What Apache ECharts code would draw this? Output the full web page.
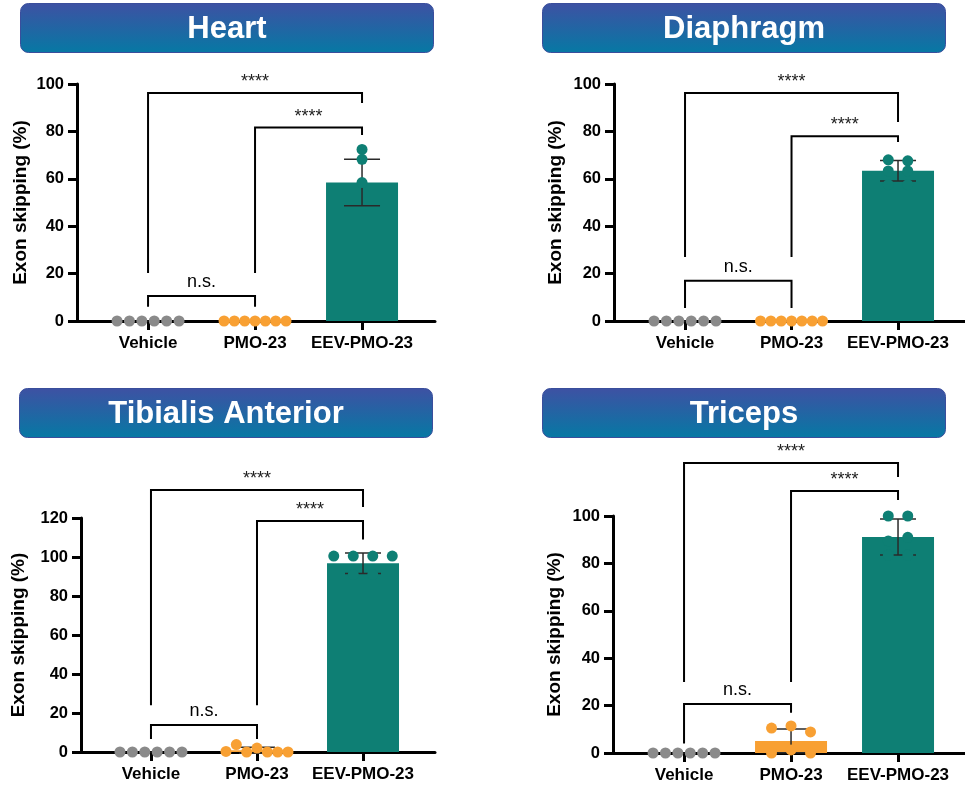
<!DOCTYPE html>
<html>
<head>
<meta charset="utf-8">
<script src="https://cdn.jsdelivr.net/npm/echarts@6/dist/echarts.min.js"></script>
<style>
  html, body { margin: 0; padding: 0; background: #ffffff; }
  #chart { width: 965px; height: 785px; }
</style>
</head>
<body>
<div id="chart"></div>
<script>
// ---- data ----
const categories = ['Vehicle', 'PMO-23', 'EEV-PMO-23'];
const panelTitles = ['Heart', 'Diaphragm', 'Tibialis Anterior', 'Triceps'];
const yMaxima = [100, 100, 120, 100];
const yInterval = 20;

// individual animals (exon skipping, %)
const heartVehicle = [0, 0, 0, 0, 0, 0];
const heartPMO = [0, 0, 0, 0, 0, 0, 0];
const heartEEV = [72.4, 68.2, 58.4];

const diaphragmVehicle = [0, 0, 0, 0, 0, 0];
const diaphragmPMO = [0, 0, 0, 0, 0, 0, 0];
const diaphragmEEV = [68, 67.6, 63.3, 63.3, 57.5, 57.5];

const tibialisVehicle = [0, 0, 0, 0, 0, 0];
const tibialisPMO = [0.3, 3.8, 0, 2, 0, 0, 0];
const tibialisEEV = [100.5, 100.5, 100.5, 100.5, 91, 91];

const tricepsVehicle = [0, 0, 0, 0, 0, 0];
const tricepsPMO = [10.5, 11.4, 8.9, 0, 1.3, 0];
const tricepsEEV = [100, 100, 89.5, 91, 83.5, 83.5];

// group mean and SD per tissue
const heartMean = [0, 0, 58.4];
const heartSD = [0, 0, 9.8];
const diaphragmMean = [0, 0, 63.4];
const diaphragmSD = [0, 0, 4.3];
const tibialisMean = [0, 0.9, 96.8];
const tibialisSD = [0, 1.5, 5.3];
const tricepsMean = [0, 5.1, 91.1];
const tricepsSD = [0, 5.0, 7.6];

// comparisons: [group A, group B, bracket level, left leg end, right leg end, label]
const heartStats = [
  [0, 2, 96.2, 20.3, 92, '****'],
  [1, 2, 81.6, 20.3, 78.5, '****'],
  [0, 1, 10.5, 6, 6, 'n.s.']
];
const diaphragmStats = [
  [0, 2, 96.2, 27, 84, '****'],
  [1, 2, 78, 27, 75.5, '****'],
  [0, 1, 17, 5.5, 5.5, 'n.s.']
];
const tibialisStats = [
  [0, 2, 134.4, 24, 125.6, '****'],
  [1, 2, 118.5, 24, 109, '****'],
  [0, 1, 13.8, 6.7, 6.7, 'n.s.']
];
const tricepsStats = [
  [0, 2, 122.4, 30, 116.5, '****'],
  [1, 2, 110.5, 30, 106.8, '****'],
  [0, 1, 20.7, 4, 17, 'n.s.']
];

// ---- styling / layout ----
const groupColors = ['#8a8a8a', '#f8a033', '#0e7f74'];
const FONT = '"Liberation Sans", Arial, Helvetica, sans-serif';

const panels = [
  { points: [heartVehicle, heartPMO, heartEEV], mean: heartMean, sd: heartSD, stats: heartStats,
    grid: { left: 77, top: 84, width: 358, height: 237 }, xMin: -0.664, xMax: 2.682, nameGap: 47,
    box: { x: 20, y: 3, w: 413, h: 49 } },
  { points: [diaphragmVehicle, diaphragmPMO, diaphragmEEV], mean: diaphragmMean, sd: diaphragmSD, stats: diaphragmStats,
    grid: { left: 614, top: 84, width: 351, height: 237 }, xMin: -0.667, xMax: 2.629, nameGap: 49,
    box: { x: 542, y: 3, w: 403, h: 49 } },
  { points: [tibialisVehicle, tibialisPMO, tibialisEEV], mean: tibialisMean, sd: tibialisSD, stats: tibialisStats,
    grid: { left: 81, top: 518, width: 354, height: 234 }, xMin: -0.66, xMax: 2.679, nameGap: 53,
    box: { x: 19, y: 388, w: 413, h: 49 } },
  { points: [tricepsVehicle, tricepsPMO, tricepsEEV], mean: tricepsMean, sd: tricepsSD, stats: tricepsStats,
    grid: { left: 613, top: 516, width: 352, height: 237 }, xMin: -0.664, xMax: 2.626, nameGap: 49,
    box: { x: 542, y: 388, w: 403, h: 49 } }
];

const DOT_R = 5.5;
const CLUSTER_PX = 9;     // points closer than this (vertically) share a row
const MAX_SPAN = 62;      // widest horizontal spread of one row
const MAX_STEP = 19.5;    // largest gap between neighbours in a row

// spread overlapping points of one group sideways (column scatter)
function scatterOffsets(values, pxPerUnit) {
  const idx = values.map((v, i) => i).sort((a, b) => values[a] - values[b]);
  const offsets = new Array(values.length).fill(0);
  let rows = [];
  let cur = [];
  idx.forEach((i, k) => {
    if (k > 0 && (values[i] - values[idx[k - 1]]) * pxPerUnit >= CLUSTER_PX) {
      rows.push(cur); cur = [];
    }
    cur.push(i);
  });
  if (cur.length) rows.push(cur);
  rows.forEach(row => {
    row.sort((a, b) => a - b);
    const n = row.length;
    if (n < 2) return;
    const step = Math.min(MAX_STEP, MAX_SPAN / (n - 1));
    row.forEach((i, j) => { offsets[i] = (j - (n - 1) / 2) * step; });
  });
  return offsets;
}

const option = {
  animation: false,
  backgroundColor: '#ffffff',
  grid: [], xAxis: [], yAxis: [], series: [], graphic: []
};

panels.forEach((p, k) => {
  option.grid.push(Object.assign({ containLabel: false }, p.grid));

  option.xAxis.push({
    type: 'value', gridIndex: k, min: p.xMin, max: p.xMax,
    splitLine: { show: false },
    axisLine: { show: true, onZero: false, lineStyle: { color: '#000', width: 3 } },
    axisTick: { show: true, customValues: [0, 1, 2], length: 9, lineStyle: { color: '#000', width: 3 } },
    axisLabel: {
      show: true, customValues: [0, 1, 2], margin: 14,
      formatter: v => categories[Math.round(v)] || '',
      color: '#000', fontFamily: FONT, fontWeight: 'bold', fontSize: 17
    }
  });

  option.yAxis.push({
    type: 'value', gridIndex: k, min: 0, max: yMaxima[k], interval: yInterval,
    name: 'Exon skipping (%)', nameLocation: 'middle', nameGap: p.nameGap,
    nameTextStyle: { color: '#000', fontFamily: FONT, fontWeight: 'bold', fontSize: 19 },
    splitLine: { show: false },
    axisLine: { show: true, onZero: false, lineStyle: { color: '#000', width: 3 } },
    axisTick: { show: true, length: 9, lineStyle: { color: '#000', width: 3 } },
    axisLabel: { margin: 13, color: '#000', fontFamily: FONT, fontWeight: 'bold', fontSize: 16.5 }
  });

  // group means as bars
  option.series.push({
    type: 'bar', xAxisIndex: k, yAxisIndex: k, barWidth: 72, z: 2,
    data: p.mean.map((m, g) => ({ value: [g, m], itemStyle: { color: groupColors[g] } }))
  });

  // SD error bars
  option.series.push({
    type: 'custom', xAxisIndex: k, yAxisIndex: k, z: 3, clip: false,
    data: p.mean.map((m, g) => [g, m, p.sd[g]]),
    renderItem: (params, api) => {
      const g = api.value(0), m = api.value(1), s = api.value(2);
      if (!s) return null;
      const top = api.coord([g, m + s]);
      const bot = api.coord([g, m - s]);
      const st = { stroke: '#2a2a2a', lineWidth: 1.5 };
      return {
        type: 'group', children: [
          { type: 'line', shape: { x1: top[0], y1: top[1], x2: bot[0], y2: bot[1] }, style: st },
          { type: 'line', shape: { x1: top[0] - 18, y1: top[1], x2: top[0] + 18, y2: top[1] }, style: st },
          { type: 'line', shape: { x1: bot[0] - 18, y1: bot[1], x2: bot[0] + 18, y2: bot[1] }, style: st }
        ]
      };
    }
  });

  // individual animals
  const pxPerUnit = p.grid.height / yMaxima[k];
  const dots = [];
  p.points.forEach((vals, g) => {
    const off = scatterOffsets(vals, pxPerUnit);
    vals.forEach((v, i) => dots.push([g, v, off[i]]));
  });
  option.series.push({
    type: 'custom', xAxisIndex: k, yAxisIndex: k, z: 4, clip: false,
    data: dots,
    renderItem: (params, api) => {
      const g = api.value(0);
      const c = api.coord([g, api.value(1)]);
      return {
        type: 'circle',
        shape: { cx: c[0] + api.value(2), cy: c[1], r: DOT_R },
        style: { fill: groupColors[g] }
      };
    }
  });

  // significance brackets
  option.series.push({
    type: 'custom', xAxisIndex: k, yAxisIndex: k, z: 5, clip: false,
    data: p.stats.map((s, i) => [i]),
    renderItem: (params, api) => {
      const s = p.stats[api.value(0)];
      const a = api.coord([s[0], s[3]]);
      const b = api.coord([s[0], s[2]]);
      const c = api.coord([s[1], s[2]]);
      const d = api.coord([s[1], s[4]]);
      const isNs = s[5] === 'n.s.';
      return {
        type: 'group', children: [
          { type: 'polyline', shape: { points: [a, b, c, d] },
            style: { stroke: '#000', lineWidth: 2, fill: null } },
          { type: 'text',
            style: {
              text: s[5], x: (b[0] + c[0]) / 2, y: b[1] - (isNs ? 5 : 2),
              fill: isNs ? '#000' : '#222', font: '18px ' + FONT,
              align: 'center', verticalAlign: 'bottom',
              textAlign: 'center', textVerticalAlign: 'bottom'
            } }
        ]
      };
    }
  });

  // tissue heading
  option.graphic.push({
    type: 'group', left: p.box.x, top: p.box.y,
    children: [
      { type: 'rect', shape: { x: 0, y: 0, width: p.box.w, height: p.box.h, r: 8 },
        style: {
          fill: { type: 'linear', x: 0, y: 0, x2: 0, y2: 1,
            colorStops: [{ offset: 0, color: '#3e51a3' }, { offset: 1, color: '#0679a4' }] },
          stroke: '#3a4e9c', lineWidth: 1
        } },
      { type: 'text', x: p.box.w / 2, y: p.box.h / 2 + 1,
        style: {
          text: panelTitles[k], fill: '#ffffff', font: 'bold 31px ' + FONT,
          align: 'center', verticalAlign: 'middle',
          textAlign: 'center', textVerticalAlign: 'middle'
        } }
    ]
  });
});

const chart = echarts.init(document.getElementById('chart'), null, { renderer: 'canvas' });
chart.setOption(option);
</script>
</body>
</html>
